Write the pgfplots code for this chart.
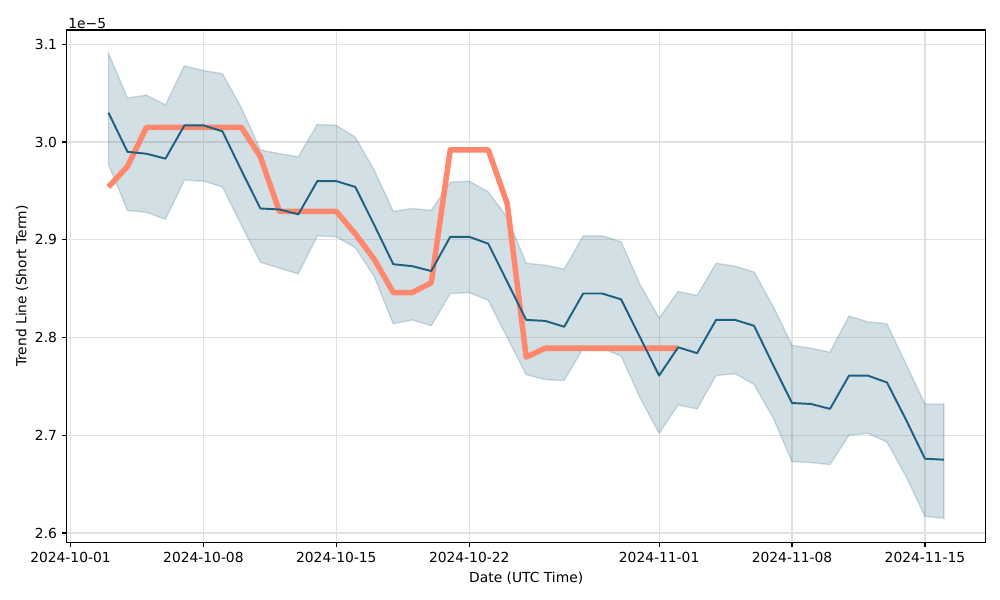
\documentclass[border=0pt]{standalone}
\usepackage{pgfplots}
\pgfplotsset{compat=1.18}
\usepackage{pgfplotstable}
\usepackage{fontspec}
\setmainfont{DejaVu Sans}
\definecolor{bline}{RGB}{31,95,127}
\definecolor{oline}{RGB}{255,135,110}
\definecolor{gridc}{RGB}{225,225,225}

% day offset from 2024-10-01, value in 1e-5
\pgfplotstableread{
d mid
2 3.030
3 2.990
4 2.988
5 2.983
6 3.017
7 3.017
8 3.011
9 2.971
10 2.932
11 2.931
12 2.926
13 2.960
14 2.960
15 2.954
16 2.915
17 2.875
18 2.873
19 2.868
20 2.903
21 2.903
22 2.896
23 2.857
24 2.818
25 2.817
26 2.811
27 2.845
28 2.845
29 2.839
30 2.800
31 2.761
32 2.790
33 2.784
34 2.818
35 2.818
36 2.812
37 2.772
38 2.733
39 2.732
40 2.727
41 2.761
42 2.761
43 2.754
44 2.716
45 2.676
46 2.675
}\mid

% band: upper edge forward, then lower edge backward
\pgfplotstableread{
d b
2 3.091
3 3.045
4 3.048
5 3.038
6 3.078
7 3.073
8 3.070
9 3.035
10 2.992
11 2.988
12 2.985
13 3.018
14 3.017
15 3.005
16 2.971
17 2.929
18 2.932
19 2.930
20 2.959
21 2.960
22 2.949
23 2.923
24 2.876
25 2.874
26 2.870
27 2.904
28 2.904
29 2.898
30 2.854
31 2.820
32 2.847
33 2.843
34 2.876
35 2.873
36 2.867
37 2.832
38 2.792
39 2.789
40 2.785
41 2.822
42 2.816
43 2.814
44 2.773
45 2.732
46 2.732
46 2.615
45 2.617
44 2.658
43 2.693
42 2.702
41 2.700
40 2.670
39 2.672
38 2.673
37 2.718
36 2.752
35 2.763
34 2.761
33 2.727
32 2.731
31 2.702
30 2.738
29 2.781
28 2.789
27 2.789
26 2.756
25 2.757
24 2.762
23 2.800
22 2.838
21 2.846
20 2.845
19 2.812
18 2.818
17 2.814
16 2.862
15 2.892
14 2.903
13 2.904
12 2.865
11 2.871
10 2.877
9 2.915
8 2.954
7 2.960
6 2.961
5 2.921
4 2.928
3 2.930
2 2.977
}\band

\pgfplotstableread{
d v
2 2.954
3 2.975
4 3.015
5 3.015
6 3.015
7 3.015
8 3.015
9 3.015
10 2.985
11 2.929
12 2.929
13 2.929
14 2.929
15 2.906
16 2.880
17 2.846
18 2.846
19 2.856
20 2.992
21 2.992
22 2.992
23 2.937
24 2.780
25 2.789
26 2.789
27 2.789
28 2.789
29 2.789
30 2.789
31 2.789
32 2.789
}\trend

\begin{document}
\begin{tikzpicture}
\useasboundingbox (-0.667in,-0.577in) rectangle (9.333in,5.423in);
\begin{axis}[
  at={(0,0)}, anchor=south west,
  scale only axis,
  width=9.19in, height=5.123in,
  xmin=-0.2, xmax=48.2,
  ymin=2.5905, ymax=3.1146,
  xtick={0,7,14,21,31,38,45},
  xticklabels={2024-10-01,2024-10-08,2024-10-15,2024-10-22,2024-11-01,2024-11-08,2024-11-15},
  ytick={2.6,2.7,2.8,2.9,3.0,3.1},
  yticklabel style={/pgf/number format/.cd,fixed,fixed zerofill,precision=1,assume math mode=true},
  tick label style={font=\fontsize{10}{12}\selectfont},
  label style={font=\fontsize{10}{12}\selectfont},
  xlabel={Date (UTC Time)},
  ylabel={Trend Line (Short Term)},
  grid=major,
  major grid style={gridc, line width=0.8pt},
  tick align=outside,
  tick pos=left,
  major tick length=3.5pt,
  every tick/.style={black, line width=0.8pt},
  axis line style={line width=0.8pt},
  ylabel style={yshift=-2pt},
]
\addplot[fill=bline, fill opacity=0.2, draw=bline, draw opacity=0.2, line width=1pt] table[x=d, y=b] {\band} -- cycle;
\addplot[oline, line width=4pt, line join=round] table[x=d, y=v] {\trend};
\addplot[bline, line width=1.4pt, line join=round] table[x=d, y=mid] {\mid};
\end{axis}
\node[anchor=south west, font=\fontsize{10}{12}\selectfont, inner sep=1pt] at (0,5.123in) {1e\char"2212 5};
\end{tikzpicture}
\end{document}
